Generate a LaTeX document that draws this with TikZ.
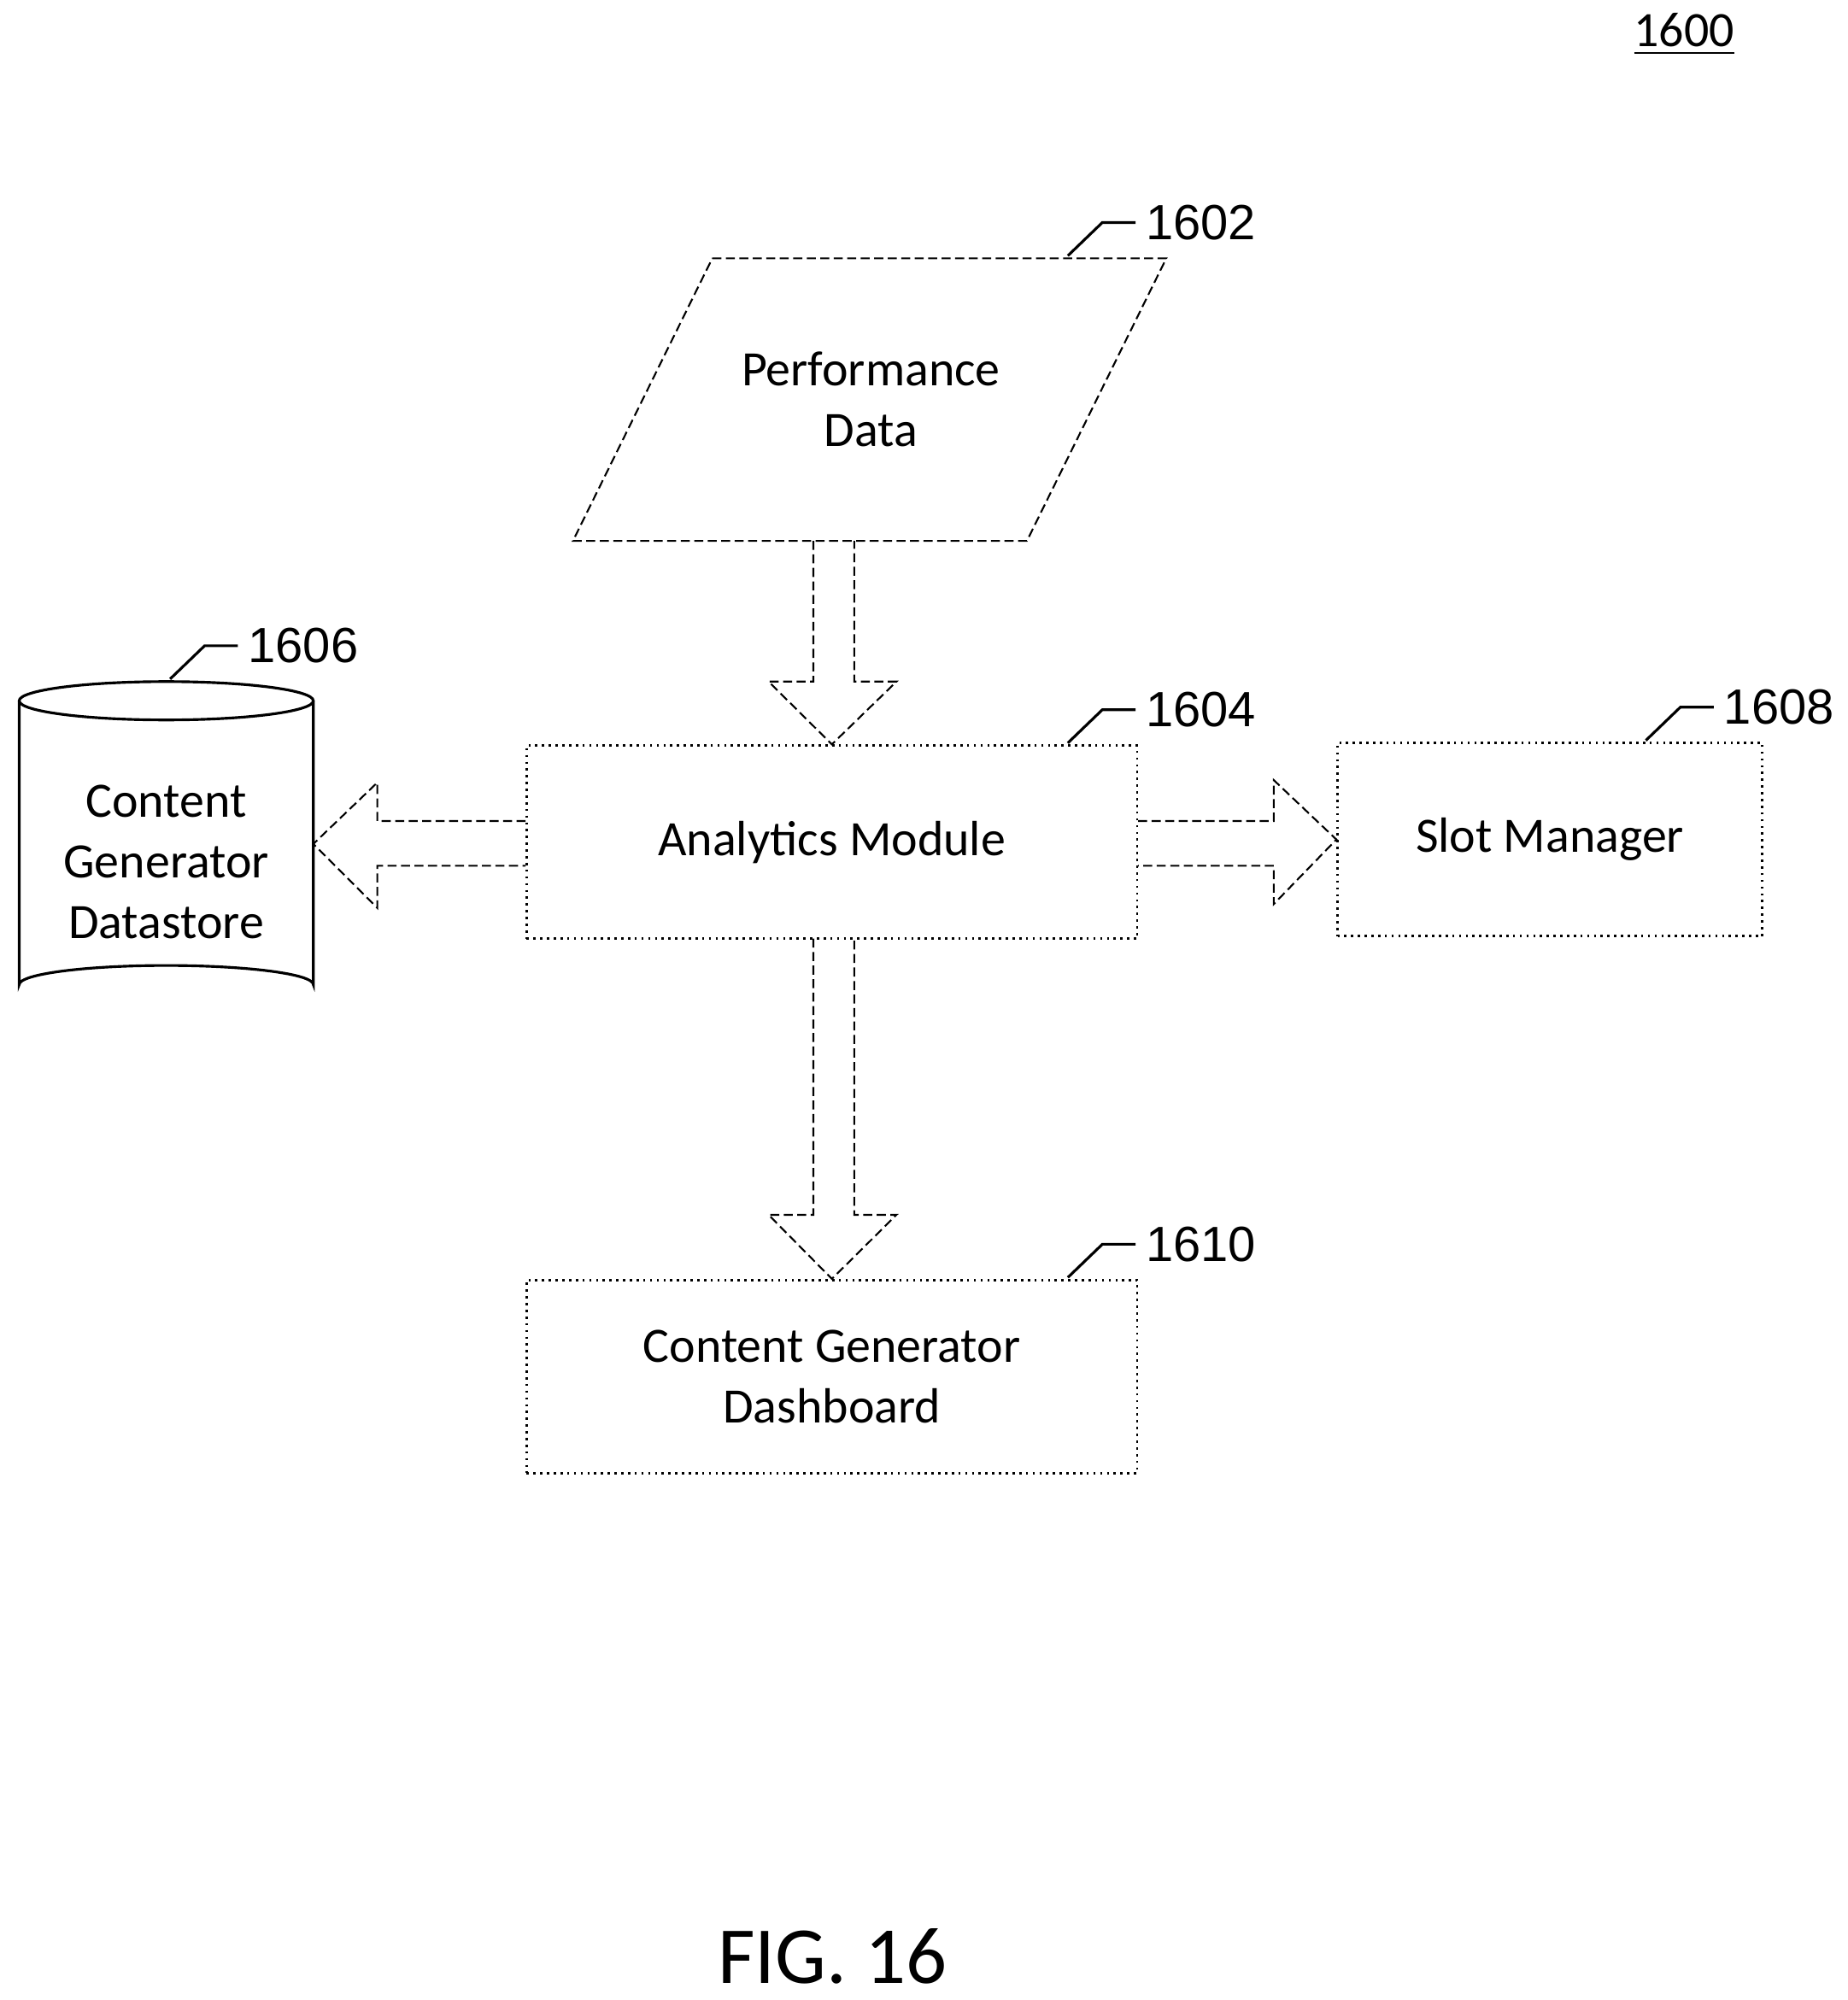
\documentclass[tikz,border=0pt]{standalone}
\usepackage{fontspec}
\setmainfont{Carlito}
\newfontfamily\numfont{Liberation Sans}
\usetikzlibrary{calc}
\tikzset{
  box/.style={draw, densely dotted, line width=.5pt, minimum width=4.77cm, minimum height=1.51cm, align=center, font=\fontsize{11}{13.5}\selectfont},
  blk/.style={draw, dash pattern=on 2pt off 1pt, line width=.4pt},
  lead/.style={line width=.6pt},
  num/.style={font=\numfont\fontsize{11}{13}\selectfont, anchor=west, inner sep=2pt},
}
\begin{document}
\begin{tikzpicture}[x=0.01cm,y=-0.01cm]
\useasboundingbox (0,0) rectangle (1445,1564);

% Figure number
  \node (fignum) at (1317,27) {\fontsize{11}{13}\selectfont\underline{1600}};

% Performance data
  \coordinate (pa) at (557,202);
  \coordinate (pb) at (912,202);
  \coordinate (pc) at (803,423);
  \coordinate (pd) at (448,423);
  \draw[blk] (pa) -- (pb) -- (pc) -- (pd) -- cycle;
  \node[align=center, font=\fontsize{11}{13.5}\selectfont] (perf) at (681,312) {Performance\\Data};

% Boxes
  \node[box] (ana) at (650.5,658.5) {Analytics Module};
  \node[box, minimum width=3.32cm] (slot) at (1212,656.5) {Slot Manager};
  \node[box] (dash) at (650.5,1076.5) {Content Generator\\Dashboard};

% Datastore
  \draw[line width=.6pt] (15,548) -- (15,770) arc[start angle=180, end angle=360, x radius=115, y radius=15] -- (245,548);
  \draw[line width=.6pt] (130,548) ellipse[x radius=115, y radius=15];
  \node[align=center, font=\fontsize{11}{13.5}\selectfont] (store) at (130,674) {Content\\Generator\\Datastore};

% Block arrows
  \draw[blk] (636,423) -- (636,533) -- (601,533) -- (ana.north) -- (701,533) -- (668,533) -- (668,423);
  \draw[blk] (636,734) -- (636,950) -- (601,950) -- (dash.north) -- (701,950) -- (668,950) -- (668,734);
  \draw[blk] (ana.west |- 0,642) -- (295,642) -- (295,612) -- (245,660) -- (295,710) -- (295,677) -- (ana.west |- 0,677);
  \draw[blk] (ana.east |- 0,642) -- (996,642) -- (996,610) -- (slot.west) -- (996,707) -- (996,677) -- (ana.east |- 0,677);

% Reference labels
  \draw[lead] (835,200) -- (862,174) -- (888,174) node[num] (l1602) {1602};
  \draw[lead] (835,581) -- (862,555) -- (888,555) node[num] (l1604) {1604};
  \draw[lead] (133,531) -- (160,505) -- (186,505) node[num] (l1606) {1606};
  \draw[lead] (1287,579) -- (1314,553) -- (1340,553) node[num] (l1608) {1608};
  \draw[lead] (835,999) -- (862,973) -- (888,973) node[num] (l1610) {1610};

  \node[font=\fontsize{18}{20}\selectfont] (fig) at (651,1530) {FIG. 16};
\end{tikzpicture}
\end{document}
